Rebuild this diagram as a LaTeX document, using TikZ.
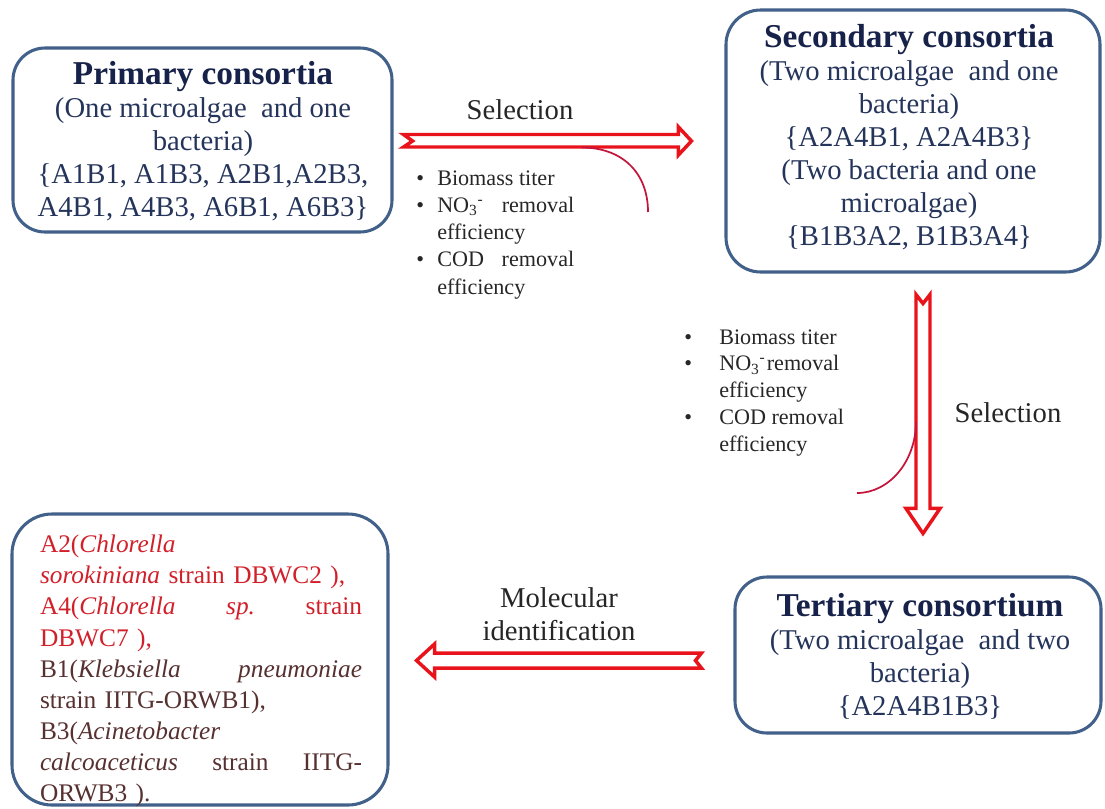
\documentclass[tikz,border=0pt]{standalone}
\usepackage{fontspec}
\setmainfont{Liberation Serif}
\usetikzlibrary{calc}
\setlength{\parindent}{0pt}

\definecolor{boxblue}{HTML}{41608A}
\definecolor{titlenavy}{HTML}{17224A}
\definecolor{bodynavy}{HTML}{24345A}
\definecolor{arrowred}{HTML}{E8131B}
\definecolor{curvered}{HTML}{C4163A}
\definecolor{strainred}{HTML}{D2202A}
\definecolor{strainbrown}{HTML}{573030}

\newlength\reswidth \setlength\reswidth{241.5pt}
\newlength\critwidth \setlength\critwidth{102.75pt}
% a line of text spread over the full given width
\newcommand\spreadline[2]{\leavevmode\hbox to #1{#2}}

\begin{document}
\begin{tikzpicture}[x=0.75pt,y=-0.75pt,
  stagebox/.style={draw=boxblue, line width=2.3pt, rounded corners=24pt, fill=white, inner sep=0pt},
  stagetext/.style={align=center, inner sep=0pt, text=bodynavy, font=\fontsize{21.5}{24.75}\selectfont},
  blockarrow/.style={draw=arrowred, line width=2.6pt, fill=white, line join=miter},
  pointer/.style={draw=curvered, line width=1.3pt},
  caption/.style={font=\fontsize{21.5}{24.75}\selectfont, align=center, inner sep=0pt, text=black!85},
  crit/.style={font=\fontsize{16.6}{20.4}\selectfont, inner sep=0pt, anchor=north west, text=black!85}
]
\useasboundingbox (0,0) rectangle (1105,808);

% --- consortium boxes -------------------------------------------------
\node[stagebox, minimum width=284.25pt, minimum height=138pt] (prim) at (202.5,140) {};
\node[stagebox, minimum width=280.5pt, minimum height=196.5pt, rounded corners=26pt] (sec) at (913,141) {};
\node[stagebox, minimum width=274.5pt, minimum height=117pt] (ter) at (918,655) {};
\node[stagebox, minimum width=282pt, minimum height=218.25pt, rounded corners=30pt] (res) at (200,659.5) {};

\node[stagetext] (primtxt) at (203,141) {%
  {\fontsize{25}{25}\selectfont\bfseries\color{titlenavy}Primary consortia}\\
  (One microalgae\hspace{0.25em} and one\\
  bacteria)\\
  \{A1B1, A1B3, A2B1,A2B3,\\
  A4B1, A4B3, A6B1, A6B3\}};

\node[stagetext] (sectxt) at (909,137.5) {%
  {\fontsize{25}{25}\selectfont\bfseries\color{titlenavy}Secondary consortia}\\
  (Two microalgae\hspace{0.25em} and one\\
  bacteria)\\
  \{A2A4B1, A2A4B3\}\\
  (Two bacteria and one\\
  microalgae)\\
  \{B1B3A2, B1B3A4\}};

\node[stagetext] (tertxt) at (920,656) {%
  {\fontsize{25}{25}\selectfont\bfseries\color{titlenavy}Tertiary consortium}\\
  (Two microalgae\hspace{0.25em} and two\\
  bacteria)\\
  \{A2A4B1B3\}};

\node[text width=\reswidth, align=left, inner sep=0pt, text=strainred,
      font=\fontsize{19}{23.3}\selectfont] (restxt) at (201,671) {%
  A2(\textit{Chlorella}\\
  \textit{sorokiniana} strain DBWC2 ),\\
  \spreadline{\reswidth}{A4(\textit{Chlorella}\hfill\textit{sp.}\hfill strain}\\
  DBWC7 ),\\
  \leavevmode\color{strainbrown}\spreadline{\reswidth}{B1(\textit{Klebsiella}\hfill\textit{pneumoniae}}\\
  strain IITG-ORWB1),\\
  B3(\textit{Acinetobacter}\\
  \spreadline{\reswidth}{\textit{calcoaceticus}\hfill strain\hfill IITG-}\\
  ORWB3 ).};

% --- block arrows -----------------------------------------------------
\coordinate (selA) at ($(prim.east)+(10,1)$);
\coordinate (selB) at ($(sec.west)+(-33,0)$);
\draw[blockarrow] ($(selA)+(0,-6.5)$) -- ($(selB)+(-13,-6.5)$) -- ($(selB)+(-13,-14)$)
  -- (selB) -- ($(selB)+(-13,14)$) -- ($(selB)+(-13,6)$) -- ($(selA)+(0,6)$)
  -- ($(selA)+(9,0)$) -- cycle;

\coordinate (selC) at ($(sec.south)+(10,21)$);
\coordinate (selD) at ($(ter.north)+(5,-42)$);
\draw[blockarrow] ($(selC)+(-7,0)$) -- ($(selC)+(0,9)$) -- ($(selC)+(7,0)$)
  -- ($(selD)+(7,-25)$) -- ($(selD)+(17,-25)$) -- (selD) -- ($(selD)+(-17,-25)$)
  -- ($(selD)+(-7,-25)$) -- cycle;

\coordinate (molA) at ($(ter.west)+(-32,5.5)$);
\coordinate (molB) at ($(res.east)+(27,1)$);
\draw[blockarrow] ($(molA)+(0,-7.5)$) -- ($(molA)+(-6,0)$) -- ($(molA)+(0,7.5)$)
  -- ($(molB)+(18,7.5)$) -- ($(molB)+(18,16.5)$) -- (molB) -- ($(molB)+(18,-16.5)$)
  -- ($(molB)+(18,-7.5)$) -- cycle;

% --- pointers from the arrows to the selection criteria ---------------
\coordinate (hookA) at ($(selA)+(178,6.5)$);
\coordinate (hookAend) at (648,212);
\draw[pointer] (hookA) .. controls ($(hookA)+(40,0)$) and ($(hookAend)+(0,-40)$) .. (hookAend);

\coordinate (hookB) at ($(selC)+(-7,127)$);
\coordinate (hookBend) at (857,493);
\draw[pointer] (hookB) .. controls ($(hookB)+(0,40)$) and ($(hookBend)+(32,0)$) .. (hookBend);

% --- labels -----------------------------------------------------------
\node[caption] (sel1) at (520,110) {Selection};
\node[caption] (sel2) at (1008,413) {Selection};
\node[caption] (mol) at (559,614) {Molecular\\identification};

\node[crit] (crit1) at (416,166) {%
  \begin{tabular}{@{}l@{}l@{}}
  \makebox[15.75pt][l]{\textbullet} & Biomass titer\\
  \makebox[15.75pt][l]{\textbullet} & \hbox to \critwidth{NO\textsubscript{3}\textsuperscript{-}\hfill removal}\\
   & efficiency\\
  \makebox[15.75pt][l]{\textbullet} & \hbox to \critwidth{COD\hfill removal}\\
   & efficiency
  \end{tabular}};

\node[crit, font=\fontsize{16.6}{20.1}\selectfont] (crit2) at (684,325) {%
  \begin{tabular}{@{}l@{}l@{}}
  \makebox[26.25pt][l]{\textbullet} & Biomass titer\\
  \makebox[26.25pt][l]{\textbullet} & NO\textsubscript{3}\textsuperscript{-}\kern1pt removal\\
   & efficiency\\
  \makebox[26.25pt][l]{\textbullet} & COD removal\\
   & efficiency
  \end{tabular}};
\end{tikzpicture}
\end{document}
